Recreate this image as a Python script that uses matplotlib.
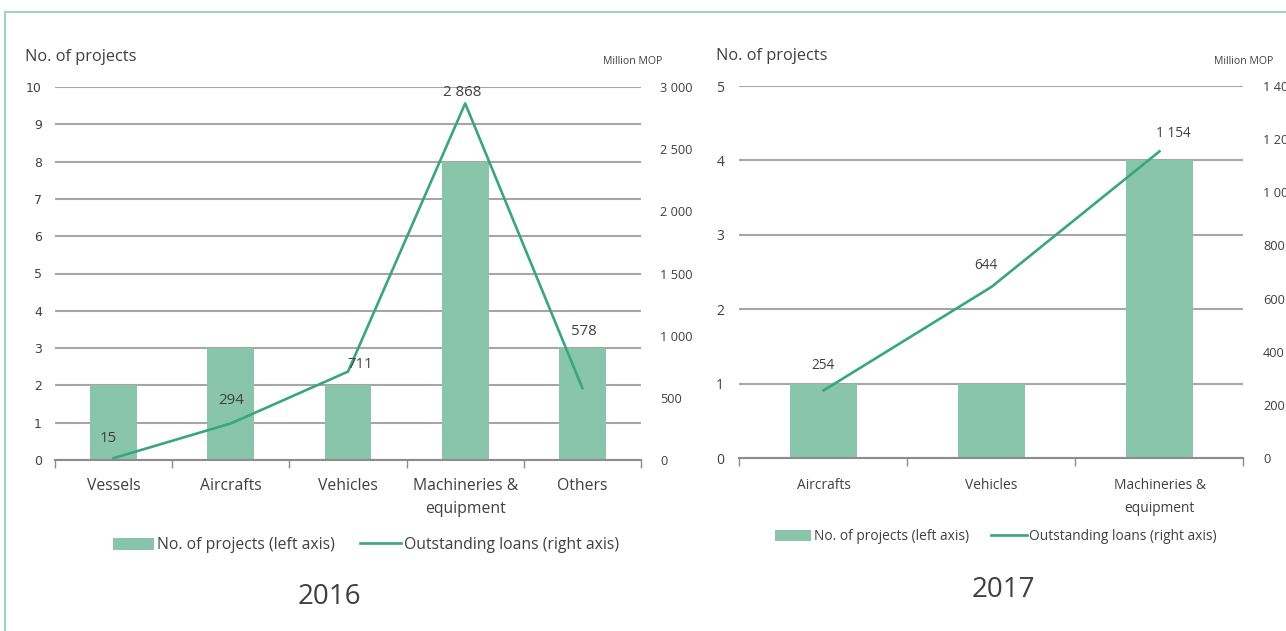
import matplotlib.pyplot as plt
from matplotlib.lines import Line2D
from matplotlib.patches import Patch
from matplotlib.ticker import FuncFormatter

plt.rcParams['font.family'] = ['Open Sans', 'DejaVu Sans']

# 2016
cats_2016 = ['Vessels', 'Aircrafts', 'Vehicles', 'Machineries &\nequipment', 'Others']
projects_2016 = [2, 3, 2, 8, 3]
loans_2016 = [15, 294, 711, 2868, 578]

# 2017
cats_2017 = ['Aircrafts', 'Vehicles', 'Machineries &\nequipment']
projects_2017 = [1, 1, 4]
loans_2017 = [254, 644, 1154]

BAR = '#88c5aa'
LINE = '#3aa67e'
TXT = '#404040'
GRID = '#a6a6a6'
AXIS = '#8c8c8c'

W, H = 1286, 631
fig = plt.figure(figsize=(W / 100, H / 100), dpi=100)


def px(x, y, w, h):
    return [x / W, 1 - (y + h) / H, w / W, h / H]


def thousands(v, pos):
    return f'{int(v):,}'.replace(',', ' ')


def panel(rect, cats, projects, loans, ymax, rmax, rstep, label_offsets,
          left_font, left_size, left_pad, cat_size, cat_pad, cat_spacing, lab_size):
    ax = fig.add_axes(rect)
    n = len(cats)
    xs = range(n)
    ax.bar(xs, projects, width=0.4, color=BAR, zorder=2)
    ax.set_xlim(-0.5, n - 0.5)
    ax.set_ylim(0, ymax)
    ax.set_yticks(range(0, ymax + 1))
    ax.grid(axis='y', color=GRID, linewidth=1.5, zorder=0)
    ax.set_axisbelow(True)
    for s in ['top', 'left', 'right']:
        ax.spines[s].set_visible(False)
    ax.spines['bottom'].set_color(AXIS)
    ax.spines['bottom'].set_linewidth(1.5)
    ax.set_xticks(list(xs))
    ax.set_xticklabels(cats, fontsize=cat_size, color=TXT, linespacing=cat_spacing)
    ax.set_xticks([i - 0.5 for i in range(n + 1)], minor=True)
    ax.tick_params(axis='x', which='major', length=0, pad=cat_pad)
    ax.tick_params(axis='x', which='minor', length=6, width=1, color=AXIS, direction='out')
    ax.tick_params(axis='y', length=0, pad=left_pad, labelsize=left_size, labelcolor=TXT)
    for t in ax.get_yticklabels():
        t.set_family(left_font)

    ax2 = ax.twinx()
    ax2.plot(xs, loans, color=LINE, linewidth=1.9, zorder=3)
    ax2.set_ylim(0, rmax)
    ax2.set_yticks(range(0, rmax + 1, rstep))
    ax2.yaxis.set_major_formatter(FuncFormatter(thousands))
    ax2.tick_params(axis='y', length=0, pad=14, labelsize=9.2, labelcolor=TXT)
    for s in ax2.spines.values():
        s.set_visible(False)
    for i, (v, off) in enumerate(zip(loans, label_offsets)):
        ax2.annotate(thousands(v, None), (i, v), xytext=off, textcoords='offset pixels',
                     ha='center', va='center', fontsize=lab_size, color=TXT)
    return ax, ax2


panel(px(55, 87, 586, 373), cats_2016, projects_2016, loans_2016, 10, 3000, 500,
      [(-5, 20), (0, 23), (12, 7), (-3, 11), (1, 57)], 'DejaVu Sans', 9, 9.5,
      11.3, 13, 1.6, 10.8)
panel(px(739.5, 86, 504, 372), cats_2017, projects_2017, loans_2017, 5, 1400, 200,
      [(0, 25), (-6, 21), (14, 18)], 'Open Sans', 10, 11,
      9.9, 14.5, 1.75, 9.8)

# axis captions
fig.text(25 / W, 1 - 57 / H, 'No. of projects', fontsize=11.8, color=TXT, va='center')
fig.text(662 / W, 1 - 61 / H, 'Million MOP', fontsize=7.6, color=TXT, va='center', ha='right')
fig.text(716 / W, 1 - 56 / H, 'No. of projects', fontsize=11.8, color=TXT, va='center')
fig.text(1214 / W, 1 - 62 / H, 'Million MOP', fontsize=7.6, color=TXT, va='center')

# legends
handles = [Patch(facecolor=BAR, edgecolor='none'), Line2D([], [], color=LINE, linewidth=1.9)]
names = ['No. of projects (left axis)', 'Outstanding loans (right axis)']
for cx, cy, fs in [(366, 545, 11.3), (996, 537, 9.9)]:
    fig.legend(handles, names, loc='center', bbox_to_anchor=(cx / W, 1 - cy / H), ncol=2,
               frameon=False, fontsize=fs, labelcolor=TXT, handlelength=2.6,
               handleheight=0.8, handletextpad=0.2, columnspacing=1.6)

# year captions
fig.text(329 / W, 1 - 597 / H, '2016', fontsize=20, color=TXT, ha='center', va='center')
fig.text(1003 / W, 1 - 590 / H, '2017', fontsize=20, color=TXT, ha='center', va='center')

# frame
border = '#9dd5bd'
fig.add_artist(Line2D([5 / W, 1], [1 - 12 / H, 1 - 12 / H], color=border, linewidth=1.5))
fig.add_artist(Line2D([5 / W, 5 / W], [0, 1 - 12 / H], color=border, linewidth=1.5))

fig.savefig('out.png', dpi=100)
